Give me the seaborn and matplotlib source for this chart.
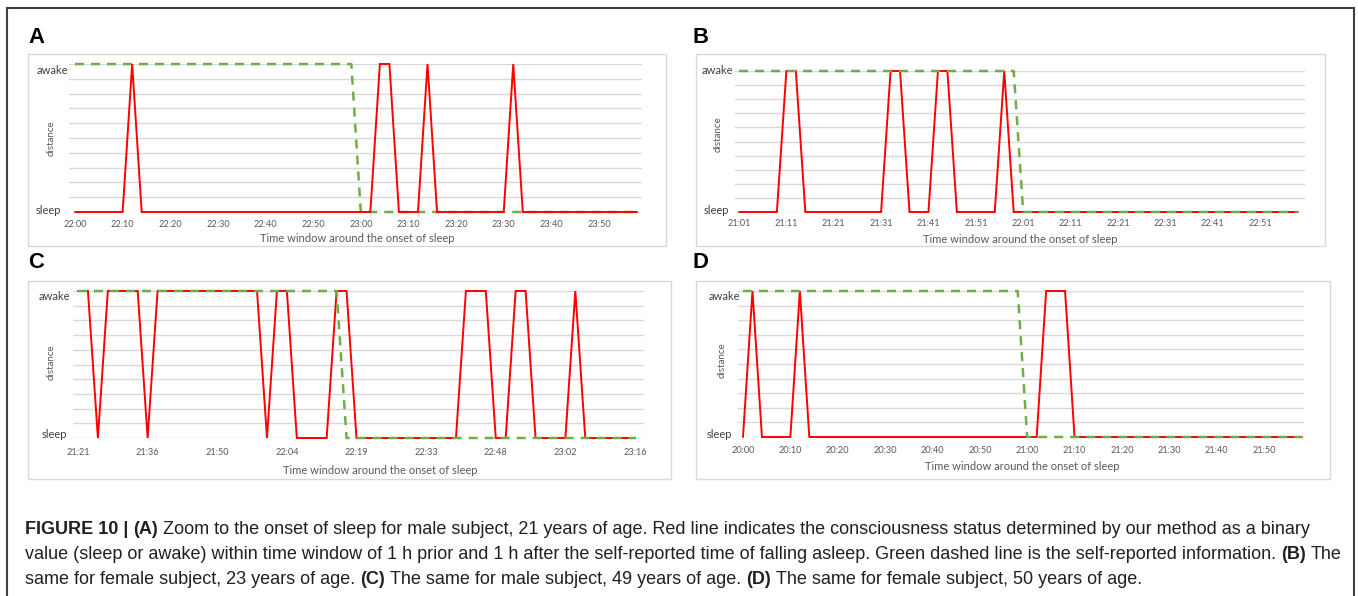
import numpy as np
import pandas as pd
import matplotlib
matplotlib.use("Agg")
import matplotlib.pyplot as plt
from matplotlib.patches import Rectangle
import seaborn as sns

# ---------------------------------------------------------------- data
# Consistency state per sample: 1 = awake, 0 = sleep.
# (A) male, 21 y, 2-min samples from 22:00 to 23:58
a_detected = [0, 0, 0, 0, 0,  0, 1, 0, 0, 0,  0, 0, 0, 0, 0,  0, 0, 0, 0, 0,
              0, 0, 0, 0, 0,  0, 0, 0, 0, 0,  0, 0, 1, 1, 0,  0, 0, 1, 0, 0,
              0, 0, 0, 0, 0,  0, 1, 0, 0, 0,  0, 0, 0, 0, 0,  0, 0, 0, 0, 0]
a_reported = [1, 1, 1, 1, 1,  1, 1, 1, 1, 1,  1, 1, 1, 1, 1,  1, 1, 1, 1, 1,
              1, 1, 1, 1, 1,  1, 1, 1, 1, 1,  0, 0, 0, 0, 0,  0, 0, 0, 0, 0,
              0, 0, 0, 0, 0,  0, 0, 0, 0, 0,  0, 0, 0, 0, 0,  0, 0, 0, 0, 0]
a_tick_idx = [0, 5, 10, 15, 20, 25, 30, 35, 40, 45, 50, 55]
a_tick_lab = ["22:00", "22:10", "22:20", "22:30", "22:40", "22:50",
              "23:00", "23:10", "23:20", "23:30", "23:40", "23:50"]

# (B) female, 23 y, 2-min samples from 21:01 to 22:59
b_detected = [0, 0, 0, 0, 0,  1, 1, 0, 0, 0,  0, 0, 0, 0, 0,  0, 1, 1, 0, 0,
              0, 1, 1, 0, 0,  0, 0, 0, 1, 0,  0, 0, 0, 0, 0,  0, 0, 0, 0, 0,
              0, 0, 0, 0, 0,  0, 0, 0, 0, 0,  0, 0, 0, 0, 0,  0, 0, 0, 0, 0]
b_reported = [1, 1, 1, 1, 1,  1, 1, 1, 1, 1,  1, 1, 1, 1, 1,  1, 1, 1, 1, 1,
              1, 1, 1, 1, 1,  1, 1, 1, 1, 1,  0, 0, 0, 0, 0,  0, 0, 0, 0, 0,
              0, 0, 0, 0, 0,  0, 0, 0, 0, 0,  0, 0, 0, 0, 0,  0, 0, 0, 0, 0]
b_tick_idx = [0, 5, 10, 15, 20, 25, 30, 35, 40, 45, 50, 55]
b_tick_lab = ["21:01", "21:11", "21:21", "21:31", "21:41", "21:51",
              "22:01", "22:11", "22:21", "22:31", "22:41", "22:51"]

# (C) male, 49 y, samples from 21:21 to 23:16
c_detected = [1, 1, 0, 1, 1,  1, 1, 0, 1, 1,  1, 1, 1, 1, 1,  1, 1, 1, 1, 0,
              1, 1, 0, 0, 0,  0, 1, 1, 0, 0,  0, 0, 0, 0, 0,  0, 0, 0, 0, 1,
              1, 1, 0, 0, 1,  1, 0, 0, 0, 0,  1, 0, 0, 0, 0,  0, 0]
c_reported = [1, 1, 1, 1, 1,  1, 1, 1, 1, 1,  1, 1, 1, 1, 1,  1, 1, 1, 1, 1,
              1, 1, 1, 1, 1,  1, 1, 0, 0, 0,  0, 0, 0, 0, 0,  0, 0, 0, 0, 0,
              0, 0, 0, 0, 0,  0, 0, 0, 0, 0,  0, 0, 0, 0, 0,  0, 0]
c_tick_idx = [0, 7, 14, 21, 28, 35, 42, 49, 56]
c_tick_lab = ["21:21", "21:36", "21:50", "22:04", "22:19",
              "22:33", "22:48", "23:02", "23:16"]

# (D) female, 50 y, 2-min samples from 20:00 to 21:58
d_detected = [0, 1, 0, 0, 0,  0, 1, 0, 0, 0,  0, 0, 0, 0, 0,  0, 0, 0, 0, 0,
              0, 0, 0, 0, 0,  0, 0, 0, 0, 0,  0, 0, 1, 1, 1,  0, 0, 0, 0, 0,
              0, 0, 0, 0, 0,  0, 0, 0, 0, 0,  0, 0, 0, 0, 0,  0, 0, 0, 0, 0]
d_reported = [1, 1, 1, 1, 1,  1, 1, 1, 1, 1,  1, 1, 1, 1, 1,  1, 1, 1, 1, 1,
              1, 1, 1, 1, 1,  1, 1, 1, 1, 1,  0, 0, 0, 0, 0,  0, 0, 0, 0, 0,
              0, 0, 0, 0, 0,  0, 0, 0, 0, 0,  0, 0, 0, 0, 0,  0, 0, 0, 0, 0]
d_tick_idx = [0, 5, 10, 15, 20, 25, 30, 35, 40, 45, 50, 55]
d_tick_lab = ["20:00", "20:10", "20:20", "20:30", "20:40", "20:50",
              "21:00", "21:10", "21:20", "21:30", "21:40", "21:50"]

panel_letters = ["A", "B", "C", "D"]
state_labels = ["sleep", "awake"]
y_title = "distance"
x_title = "Time window around the onset of sleep"

caption_lines = [
    [("FIGURE 10 |", True), ("(A)", True),
     ("Zoom to the onset of sleep for male subject, 21 years of age. Red line "
      "indicates the consciousness status determined by our method as a binary", False)],
    [("value (sleep or awake) within time window of 1 h prior and 1 h after the "
      "self-reported time of falling asleep. Green dashed line is the "
      "self-reported information.", False), ("(B)", True), ("The", False)],
    [("same for female subject, 23 years of age.", False), ("(C)", True),
     ("The same for male subject, 49 years of age.", False), ("(D)", True),
     ("The same for female subject, 50 years of age.", False)],
]

# ---------------------------------------------------------------- style
sns.set_style("white")
CHART_FONT = ["Lato", "DejaVu Sans"]
CAP_FONT = ["Liberation Sans Narrow", "Liberation Sans", "DejaVu Sans"]
LETTER_FONT = ["Liberation Sans", "DejaVu Sans"]
plt.rcParams["font.family"] = CHART_FONT

RED = "#FF0000"
GREEN = "#70AD47"
GRID = "#D9D9D9"
BOX = "#D9D9D9"
TXT = "#595959"
STATE_TXT = "#404040"

W, H = 1358, 596
fig = plt.figure(figsize=(W / 100, H / 100), dpi=100)
fig.patch.set_facecolor("white")


def fx(x):
    return x / W


def fy(y):
    return 1 - y / H


# outer frame of the figure
fig.add_artist(Rectangle((fx(7), fy(605)), (1354 - 7) / W, (605 - 8) / H,
                         transform=fig.transFigure, fill=False,
                         edgecolor="#3F3F3F", lw=1.5))

# layout of each panel in pixels
layouts = [
    dict(box=(28, 54, 666, 246), plot=(69, 64, 642, 212), x0=75, step=524 / 55,
         awake=(68, 71), sleep=(61, 211), ytitle=(51, 138), tick_pad=5.5,
         xtitle=(357, 238), letter=(28, 43), red_on_top=True),
    dict(box=(696, 54, 1325, 246), plot=(735, 71, 1305, 212), x0=739, step=521 / 55,
         awake=(733, 71), sleep=(729, 211), ytitle=(718, 134), tick_pad=4.8,
         xtitle=(1020, 239), letter=(692, 43), red_on_top=False),
    dict(box=(28, 281, 671, 479), plot=(73, 291, 644, 438), x0=78, step=557 / 56,
         awake=(70, 297), sleep=(67, 434), ytitle=(51, 362), tick_pad=6.9,
         xtitle=(380, 470), letter=(28, 268), red_on_top=False),
    dict(box=(696, 281, 1330, 479), plot=(738, 291, 1304, 437), x0=743, step=521 / 55,
         awake=(740, 297), sleep=(732, 434), ytitle=(722, 360), tick_pad=6.2,
         xtitle=(1022, 467), letter=(692, 268), red_on_top=False),
]

series = [
    (a_detected, a_reported, a_tick_idx, a_tick_lab),
    (b_detected, b_reported, b_tick_idx, b_tick_lab),
    (c_detected, c_reported, c_tick_idx, c_tick_lab),
    (d_detected, d_reported, d_tick_idx, d_tick_lab),
]

for letter, lay, (det, rep, tidx, tlab) in zip(panel_letters, layouts, series):
    bl, bt, br, bb = lay["box"]
    fig.add_artist(Rectangle((fx(bl), fy(bb)), (br - bl) / W, (bb - bt) / H,
                             transform=fig.transFigure, fill=False,
                             edgecolor=BOX, lw=1.0))
    fig.text(fx(lay["letter"][0]), fy(lay["letter"][1]), letter,
             fontsize=15.8, fontweight="bold", family=LETTER_FONT,
             ha="left", va="baseline", color="black")

    pl, pt, pr, pb = lay["plot"]
    ax = fig.add_axes([fx(pl), fy(pb), (pr - pl) / W, (pb - pt) / H])
    ax.patch.set_alpha(0)

    df = pd.DataFrame({"idx": np.arange(len(det)), "detected": det, "reported": rep})
    z_red, z_green = (4, 3) if lay["red_on_top"] else (3, 4)
    sns.lineplot(data=df, x="idx", y="detected", ax=ax, color=RED, lw=1.4,
                 estimator=None, errorbar=None, zorder=z_red)
    red_line = ax.lines[-1]
    sns.lineplot(data=df, x="idx", y="reported", ax=ax, color=GREEN, lw=1.8,
                 estimator=None, errorbar=None, zorder=z_green)
    green_line = ax.lines[-1]
    green_line.set_dashes([3.6, 2.8])
    for ln in (red_line, green_line):
        ln.set_clip_on(False)
        ln.set_solid_joinstyle("miter")

    ax.set_ylim(0, 1)
    ax.set_xlim((pl - lay["x0"]) / lay["step"], (pr - lay["x0"]) / lay["step"])
    ax.set_yticks(np.linspace(0, 1, 11))
    ax.set_yticklabels([])
    ax.grid(axis="y", color=GRID, lw=1.0)
    ax.grid(axis="x", visible=False)
    ax.set_axisbelow(True)
    ax.set_xticks(tidx, tlab)
    ax.tick_params(axis="both", length=0)
    ax.tick_params(axis="x", pad=lay["tick_pad"], labelsize=6.6, labelcolor=TXT)
    ax.set_xlabel("")
    ax.set_ylabel("")
    for s in ax.spines.values():
        s.set_visible(False)

    fig.text(fx(lay["awake"][0]), fy(lay["awake"][1]), state_labels[1],
             ha="right", va="center", fontsize=8, color=STATE_TXT)
    fig.text(fx(lay["sleep"][0]), fy(lay["sleep"][1]), state_labels[0],
             ha="right", va="center", fontsize=8, color=STATE_TXT)
    fig.text(fx(lay["ytitle"][0]), fy(lay["ytitle"][1]), y_title, rotation=90,
             ha="center", va="center", fontsize=7, color=TXT)
    fig.text(fx(lay["xtitle"][0]), fy(lay["xtitle"][1]), x_title,
             ha="center", va="center", fontsize=8, color=TXT)

# ---------------------------------------------------------------- caption
renderer = fig.canvas.get_renderer()


def text_width(s, size, bold):
    t = fig.text(0, 0, s, fontsize=size, family=CAP_FONT,
                 fontweight="bold" if bold else "normal")
    w = t.get_window_extent(renderer).width
    t.remove()
    return w


def line_width(segs, size):
    total = 0.0
    for i, (s, b) in enumerate(segs):
        total += text_width(s, size, b)
        if i < len(segs) - 1:
            total += text_width("a a", size, b) - text_width("aa", size, b)
    return total


base_size = 13.0
cap_size = base_size * (1338 - 25) / line_width(caption_lines[1], base_size)

cap_x0 = 25
baselines = [534, 559, 584]
for segs, yb in zip(caption_lines, baselines):
    x = cap_x0
    for i, (s, b) in enumerate(segs):
        t = fig.text(fx(x), fy(yb), s, fontsize=cap_size, family=CAP_FONT,
                     fontweight="bold" if b else "normal", color="#231F20",
                     ha="left", va="baseline")
        x += t.get_window_extent(renderer).width
        if i < len(segs) - 1:
            x += text_width("a a", cap_size, b) - text_width("aa", cap_size, b)

fig.savefig("out.png", dpi=100, facecolor="white")
